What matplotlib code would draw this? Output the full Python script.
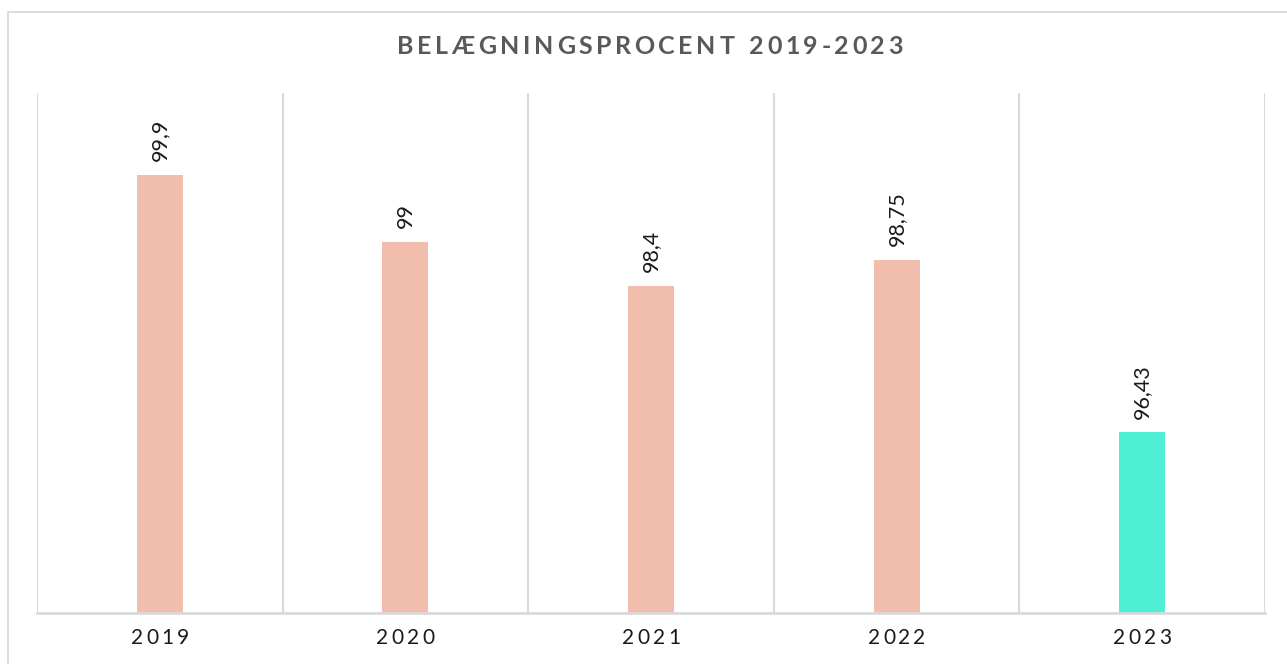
import matplotlib

matplotlib.use('Agg')
import matplotlib.pyplot as plt
from matplotlib.patches import Rectangle

years = ['2019', '2020', '2021', '2022', '2023']
occupancy = [99.9, 99.0, 98.4, 98.75, 96.43]
bar_colors = ['#F1BDAD', '#F1BDAD', '#F1BDAD', '#F1BDAD', '#4EEFD4']
title = 'BELÆGNINGSPROCENT 2019-2023'

W, H = 1287, 664
FONT = ['Lato', 'DejaVu Sans']


def spaced_text(fig, renderer, cx, cy, s, target_w=None, track=0.0, **kw):
    """Tegner tekst tegn for tegn med ekstra afstand (pixelkoordinater)."""
    widths = []
    for ch in s:
        if ch == ' ':
            t = fig.text(0, 0, 'n', **kw)
            w = t.get_window_extent(renderer).width * 0.55
        else:
            t = fig.text(0, 0, ch, **kw)
            w = t.get_window_extent(renderer).width
        t.remove()
        widths.append(w)
    if target_w is not None:
        track = (target_w - sum(widths)) / (len(s) - 1)
    total = sum(widths) + track * (len(s) - 1)
    x = cx - total / 2
    for ch, w in zip(s, widths):
        if ch != ' ':
            fig.text((x + w / 2) / W, 1 - cy / H, ch, ha='center', va='center', **kw)
        x += w + track


fig = plt.figure(figsize=(W / 100, H / 100), dpi=100)
renderer = fig.canvas.get_renderer()

# ramme rundt om diagrammet
fig.patches.append(Rectangle((8 / W, -0.1), (W + 20) / W, 1 - 12 / H + 0.1,
                             transform=fig.transFigure, fill=False,
                             edgecolor='#d9d9d9', linewidth=1.3))

left, right, top, bottom = 37, 1265, 93, 613
ax = fig.add_axes([left / W, 1 - bottom / H, (right - left) / W, (bottom - top) / H])

x = list(range(len(years)))
ax.bar(x, occupancy, width=0.187, color=bar_colors, bottom=0)
ax.set_ylim(94, 101)
ax.set_xlim(-0.5, len(years) - 0.5)

for b in range(len(years) + 1):
    ax.axvline(b - 0.5, color='#d9d9d9', linewidth=1.5, zorder=0)

for s in ['top', 'right', 'left']:
    ax.spines[s].set_visible(False)
ax.spines['bottom'].set_color('#d9d9d9')
ax.spines['bottom'].set_linewidth(2)
ax.set_yticks([])
ax.set_xticks([])

for xi, v in zip(x, occupancy):
    label = f'{v:g}'.replace('.', ',')
    ax.annotate(label, (xi, v), xytext=(0, 10), textcoords='offset points',
                rotation=90, ha='center', va='bottom', fontsize=15.5,
                family=FONT, color='#1a1a1a')

# akse-etiketter med bred bogstavafstand
slot = (right - left) / len(years)
for i, yr in enumerate(years):
    spaced_text(fig, renderer, left + slot * (i + 0.5), 638, yr, target_w=58,
                fontsize=15, family=FONT, color='#1a1a1a')

spaced_text(fig, renderer, 650, 46, title, target_w=506,
            fontsize=18, family=FONT, fontweight='bold', color='#595959')

fig.savefig('out.png', dpi=100)
